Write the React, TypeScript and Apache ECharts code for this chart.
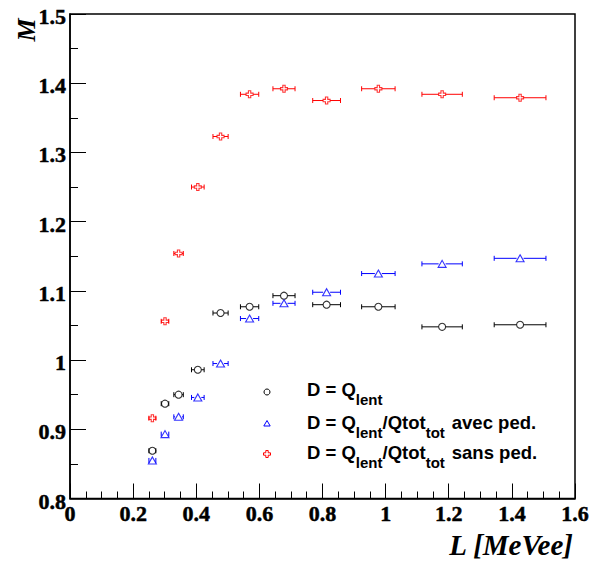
import React, { useEffect, useRef } from 'react';
import * as echarts from 'echarts';

// ---- data ----
const xValues = [0.261, 0.301, 0.344, 0.405, 0.477, 0.569, 0.678, 0.813, 0.977, 1.179, 1.426];
const xErrors = [0.011, 0.012, 0.015, 0.02, 0.024, 0.029, 0.035, 0.044, 0.053, 0.064, 0.082];
const mQlent = [0.869, 0.937, 0.95, 0.986, 1.068, 1.077, 1.093, 1.08, 1.077, 1.048, 1.051];
const mAvecPed = [0.855, 0.893, 0.918, 0.946, 0.995, 1.06, 1.082, 1.098, 1.125, 1.139, 1.147];
const mSansPed = [0.916, 1.056, 1.154, 1.25, 1.323, 1.384, 1.392, 1.375, 1.392, 1.384, 1.379];

const xAxisRange = [0, 1.6];
const xAxisStep = 0.2;
const yAxisRange = [0.8, 1.5];
const yAxisStep = 0.1;

const legendLabels = [
  '{m|D = Q}{s|lent}',
  '{m|D = Q}{s|lent}{m|/Qtot}{s|tot}{g|avec ped.}',
  '{m|D = Q}{s|lent}{m|/Qtot}{s|tot}{g|sans ped.}',
];
const xTitle = 'L [MeVee]';
const yTitle = 'M';

const CROSS = 'path://M3,0H6V3H9V6H6V9H3V6H0V3H3Z';

const seriesDefs = [
  { name: 'D = Qlent', values: mQlent, color: '#000000', symbol: 'circle', size: 7 as any },
  { name: 'D = Qlent/Qtot avec ped.', values: mAvecPed, color: '#0000ff', symbol: 'triangle', size: [8, 7] as any },
  { name: 'D = Qlent/Qtot sans ped.', values: mSansPed, color: '#ff0000', symbol: CROSS, size: 7 as any },
];

const SERIF = 'Liberation Serif';
const SANS = 'Liberation Sans';

function errorBarRenderer(color: string) {
  return (params: any, api: any) => {
    const x = api.value(0);
    const y = api.value(1);
    const e = api.value(2);
    const c = api.coord([x, y]);
    const l = api.coord([x - e, y]);
    const r = api.coord([x + e, y]);
    const gap = 3.5;
    const cap = 2.5;
    const st = { stroke: color, lineWidth: 1 };
    const children: any[] = [];
    if (c[0] - l[0] > gap) {
      children.push({ type: 'line', shape: { x1: l[0], y1: c[1], x2: c[0] - gap, y2: c[1] }, style: st });
      children.push({ type: 'line', shape: { x1: r[0], y1: c[1], x2: c[0] + gap, y2: c[1] }, style: st });
    }
    children.push({ type: 'line', shape: { x1: l[0], y1: c[1] - cap, x2: l[0], y2: c[1] + cap }, style: st });
    children.push({ type: 'line', shape: { x1: r[0], y1: c[1] - cap, x2: r[0], y2: c[1] + cap }, style: st });
    return { type: 'group', children };
  };
}

export default function App() {
  const ref = useRef<HTMLDivElement>(null);
  useEffect(() => {
    if (!ref.current) return;
    const chart = echarts.init(ref.current, undefined, { renderer: 'svg' });
    const series: any[] = [];
    seriesDefs.forEach((s) => {
      const data = xValues.map((x, i) => [x, s.values[i], xErrors[i]]);
      series.push({
        type: 'custom',
        name: s.name + ' err',
        data,
        renderItem: errorBarRenderer(s.color),
        z: 2,
        silent: true,
      });
      series.push({
        type: 'scatter',
        name: s.name,
        data: data.map((d) => [d[0], d[1]]),
        symbol: s.symbol,
        symbolSize: s.size,
        itemStyle: { color: 'rgba(0,0,0,0)', borderColor: s.color, borderWidth: 1.1 },
        z: 3,
      });
    });

    const mainTok = {
      fontFamily: SANS, fontWeight: 'bold', fontSize: 18.5, lineHeight: 18.5,
      padding: [0, 0, 8, 0], verticalAlign: 'bottom', color: '#000',
    };
    const rich = {
      m: mainTok,
      g: { ...mainTok, padding: [0, 0, 8, 7] },
      s: {
        fontFamily: SANS, fontWeight: 'bold', fontSize: 15, lineHeight: 15,
        verticalAlign: 'bottom', color: '#000',
      },
    };
    const tickRich = {
      v: {
        fontFamily: SERIF, fontWeight: 'bold', fontSize: 22, lineHeight: 16, color: '#000',
        textBorderColor: '#000', textBorderWidth: 0.5,
      },
    };
    const legendY = [388.5, 421, 451];
    const lx = 267;

    chart.setOption({
      animation: false,
      backgroundColor: '#fff',
      textStyle: { fontFamily: SERIF, fontWeight: 'bold', fontSize: 22, color: '#000' },
      grid: {
        left: 70, top: 14, right: 16, bottom: 64.5,
        show: true, borderColor: '#000', borderWidth: 1.5, backgroundColor: 'transparent',
        containLabel: false, outerBoundsMode: 'none',
      },
      xAxis: {
        type: 'value',
        min: xAxisRange[0], max: xAxisRange[1], interval: xAxisStep,
        axisLine: { show: true, lineStyle: { color: '#000', width: 1.5 } },
        axisTick: { show: true, inside: true, length: 15, lineStyle: { color: '#000', width: 1 } },
        minorTick: { show: true, splitNumber: 4, length: 7, lineStyle: { color: '#000', width: 1 } },
        splitLine: { show: false },
        axisLabel: {
          show: true, margin: 7, formatter: '{v|{value}}', rich: tickRich,
          fontFamily: SERIF, fontWeight: 'bold', fontSize: 22, color: '#000',
        },
      },
      yAxis: {
        type: 'value',
        min: yAxisRange[0], max: yAxisRange[1], interval: yAxisStep,
        axisLine: { show: true, lineStyle: { color: '#000', width: 1.5 } },
        axisTick: { show: true, inside: true, length: 16, lineStyle: { color: '#000', width: 1 } },
        minorTick: { show: true, splitNumber: 2, length: 8, lineStyle: { color: '#000', width: 1 } },
        splitLine: { show: false },
        axisLabel: {
          show: true, margin: 4, padding: [5, 0, 0, 0], formatter: '{v|{value}}', rich: tickRich,
          fontFamily: SERIF, fontWeight: 'bold', fontSize: 22, color: '#000',
        },
      },
      series,
      graphic: [
        {
          type: 'text', x: 26, y: 30, rotation: Math.PI / 2,
          style: {
            text: yTitle, font: 'italic bold 26px "Liberation Serif"', fill: '#000',
            align: 'center', verticalAlign: 'middle',
          },
        },
        {
          type: 'text', x: 573, y: 545,
          style: {
            text: xTitle, font: 'italic bold 29px "Liberation Serif"', fill: '#000',
            align: 'right', verticalAlign: 'middle',
          },
        },
        { type: 'circle', shape: { cx: lx, cy: 392, r: 3 }, style: { fill: 'none', stroke: '#000', lineWidth: 1 } },
        {
          type: 'polygon',
          shape: { points: [[lx, 420.5], [lx + 3.2, 426], [lx - 3.2, 426]] },
          style: { fill: 'none', stroke: '#0000ff', lineWidth: 1 },
        },
        {
          type: 'polygon',
          shape: {
            points: [
              [lx - 1.2, 450.5], [lx + 1.2, 450.5], [lx + 1.2, 452.8], [lx + 3.5, 452.8], [lx + 3.5, 455.2],
              [lx + 1.2, 455.2], [lx + 1.2, 457.5], [lx - 1.2, 457.5], [lx - 1.2, 455.2], [lx - 3.5, 455.2],
              [lx - 3.5, 452.8], [lx - 1.2, 452.8],
            ],
          },
          style: { fill: 'none', stroke: '#ff0000', lineWidth: 1 },
        },
        ...legendLabels.map((t, i) => ({
          type: 'text', x: 307, y: legendY[i],
          style: { text: t, rich, align: 'left', verticalAlign: 'top', fill: '#000' },
        })),
      ],
    } as any);
    return () => chart.dispose();
  }, []);
  return (
    <div
      ref={ref}
      style={{ position: 'absolute', left: 0, top: 0, width: 591, height: 563, background: '#fff' }}
    />
  );
}
